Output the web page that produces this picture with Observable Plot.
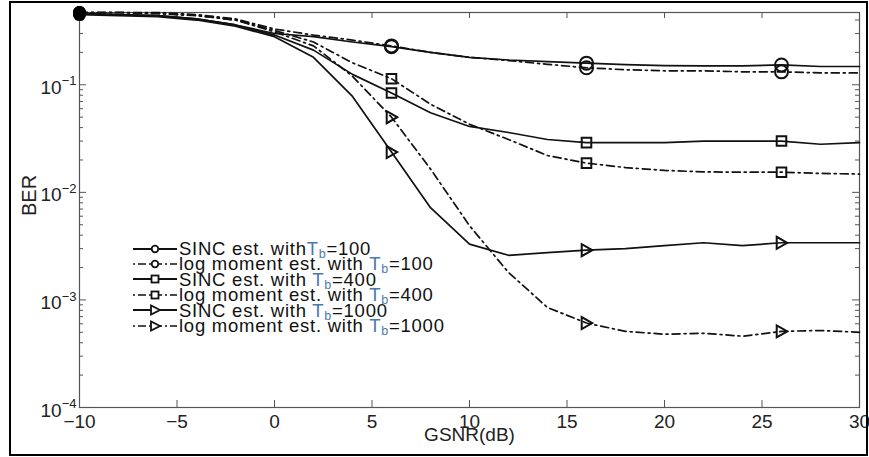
<!DOCTYPE html>
<html><head><meta charset="utf-8">
<script src="https://cdn.jsdelivr.net/npm/d3@7"></script>
<script src="https://cdn.jsdelivr.net/npm/@observablehq/plot@0.6"></script>
<style>
html,body{margin:0;padding:0;background:#fff;}
#wrap{position:relative;width:869px;height:457px;font-family:"Liberation Sans",Arial,sans-serif;}
#wrap svg.plot{display:block;}
#border{position:absolute;left:9px;top:1px;width:855px;height:451px;border:2px solid #000;pointer-events:none;}
#legend{position:absolute;left:132px;top:241px;font-size:18.5px;letter-spacing:0.75px;line-height:15.4px;color:#111;}
.row{display:flex;align-items:center;height:15.4px;white-space:nowrap;}
.row svg{flex:none;}
.txt{display:inline-block;height:15.4px;line-height:15.4px;overflow:visible;}
.tb{color:#4a78b0;}
.tb sub{font-size:12.5px;vertical-align:-3px;line-height:0;}
</style></head><body>
<div id="wrap"><div id="legend"></div><div id="border"></div></div>
<script>
// ---- data ----
const gsnr = [-10,-8,-6,-4,-2,0,2,4,6,8,10,12,14,16,18,20,22,24,26,28,30];
const sinc100 = [0.46,0.45,0.44,0.41,0.36,0.30,0.28,0.25,0.226,0.20,0.18,0.17,0.164,0.159,0.154,0.151,0.150,0.150,0.153,0.148,0.148];
const logm100 = [0.47,0.47,0.47,0.45,0.41,0.33,0.29,0.26,0.23,0.20,0.18,0.168,0.155,0.144,0.138,0.135,0.135,0.132,0.132,0.129,0.129];
const sinc400 = [0.46,0.45,0.44,0.41,0.36,0.29,0.21,0.125,0.084,0.055,0.041,0.036,0.031,0.029,0.029,0.029,0.030,0.030,0.030,0.028,0.029];
const logm400 = [0.47,0.47,0.46,0.44,0.40,0.32,0.25,0.16,0.114,0.066,0.043,0.031,0.022,0.0187,0.017,0.016,0.0155,0.0154,0.0154,0.015,0.0148];
const sinc1000 = [0.45,0.44,0.43,0.40,0.35,0.28,0.18,0.078,0.0237,0.0072,0.0033,0.0026,0.00275,0.0029,0.0030,0.0032,0.0034,0.0032,0.0034,0.0034,0.0034];
const logm1000 = [0.47,0.47,0.46,0.44,0.40,0.31,0.23,0.12,0.050,0.0165,0.0049,0.0018,0.00085,0.00061,0.00051,0.00048,0.00049,0.00046,0.00051,0.00052,0.00050];
const seriesValues = [sinc100, logm100, sinc400, logm400, sinc1000, logm1000];
const seriesPrefix = ["SINC est. with", "log moment est. with ", "SINC est. with ", "log moment est. with ", "SINC est. with ", "log moment est. with "];
const seriesTb = ["100", "100", "400", "400", "1000", "1000"];
const markerX = [6, 16, 26];
const xTicks = [-10, -5, 0, 5, 10, 15, 20, 25, 30];
const yMajor = [1e-4, 1e-3, 1e-2, 1e-1];
const xLabel = "GSNR(dB)";
const yLabel = "BER";

// ---- styles ----
const isDashed = [false, true, false, true, false, true];
const symKind = ["circle", "circle", "square", "square", "tri", "tri"];
const DASH = "8,4,2,4";
const FS = 19;
const triRight = {draw(ctx, size) {
  const r = Math.sqrt(size / Math.PI);
  ctx.moveTo(1.2 * r, 0); ctx.lineTo(-r, -1.25 * r); ctx.lineTo(-r, 1.25 * r); ctx.closePath();
}};
const symOf = k => k === "circle" ? "circle" : k === "square" ? "square" : triRight;
const rOf = k => k === "circle" ? 6.5 : k === "square" ? 5.4 : 4.8;

const rows = [];
seriesValues.forEach((vals, i) => vals.forEach((v, j) => rows.push({s: i, x: gsnr[j], y: v})));
const markRows = rows.filter(d => markerX.includes(d.x));
const firstRows = rows.filter(d => d.x === gsnr[0]);

const yMinor = [];
yMajor.forEach(m => { for (let k = 2; k <= 9; k++) { const v = m * k; if (v < 0.47) yMinor.push(v); } });

const H = 457, W = 869, mT = 12, mB = 50, mL = 79, mR = 10;
const ih = H - mT - mB, iw = W - mL - mR;
const axisC = "#555";

const marks = [
  Plot.frame({stroke: axisC, strokeWidth: 1.2}),
  Plot.ruleX(xTicks, {x: d => d, insetTop: ih - 7, stroke: axisC}),
  Plot.ruleX(xTicks, {x: d => d, insetBottom: ih - 6, stroke: axisC}),
  Plot.ruleY(yMajor, {y: d => d, insetRight: iw - 7, stroke: axisC}),
  Plot.ruleY(yMajor, {y: d => d, insetLeft: iw - 7, stroke: axisC}),
  Plot.ruleY(yMinor, {y: d => d, insetRight: iw - 4, stroke: axisC}),
  Plot.ruleY(yMinor, {y: d => d, insetLeft: iw - 4, stroke: axisC}),
  Plot.axisX({ticks: xTicks, tickSize: 0, tickPadding: 7, label: null, fontSize: FS,
    tickFormat: d => d < 0 ? "\u2212" + (-d) : String(d), fill: "#222"}),
  Plot.axisY({ticks: yMajor, tickSize: 0, tickPadding: 3, dy: 3, label: null, fontSize: FS,
    tickFormat: d => { const e = Math.round(Math.log10(d)); return (e < 0 ? "\u2212" : "") + Math.abs(e); }, fill: "#222"}),
  Plot.text([xLabel], {text: d => d, frameAnchor: "bottom", lineAnchor: "top", dy: 20, fontSize: FS, fill: "#222"}),
  Plot.text([yLabel], {text: d => d, frameAnchor: "left", rotate: -90, dx: -50, dy: 6, fontSize: FS + 1, fill: "#222"})
];
seriesValues.forEach((_, i) => {
  marks.push(Plot.line(rows.filter(d => d.s === i), {x: "x", y: "y", stroke: "#111", strokeWidth: 1.7,
    strokeDasharray: isDashed[i] ? DASH : null}));
});
seriesValues.forEach((_, i) => {
  marks.push(Plot.dot(markRows.filter(d => d.s === i), {x: "x", y: "y", symbol: symOf(symKind[i]), r: rOf(symKind[i]),
    stroke: "#111", strokeWidth: 2, fill: "none"}));
});
marks.push(Plot.dot(firstRows, {x: "x", y: "y", r: 6.5, fill: "#000"}));

const svg = Plot.plot({
  width: W, height: H, marginTop: mT, marginBottom: mB, marginLeft: mL, marginRight: mR,
  style: {fontFamily: "'Liberation Sans', Arial, sans-serif", fontSize: FS + "px", background: "#fff", overflow: "visible"},
  x: {domain: [-10, 30]},
  y: {type: "log", domain: [1e-4, 0.47]},
  marks
});
svg.classList.add("plot");
d3.select(svg).selectAll('g[aria-label="y-axis tick label"] text').each(function() {
  const e = this.textContent;
  this.textContent = "10";
  d3.select(this).append("tspan").attr("dy", "-0.65em").attr("font-size", "13px").text(e);
});
const wrap = document.getElementById("wrap");
wrap.insertBefore(svg, wrap.firstChild);

// ---- legend ----
const legend = document.getElementById("legend");
seriesValues.forEach((_, i) => {
  const row = document.createElement("div");
  row.className = "row";
  const k = symKind[i];
  let mk;
  if (k === "circle") mk = `<circle cx="23" cy="8" r="3.3" fill="#fff" stroke="#111" stroke-width="1.8"/>`;
  else if (k === "square") mk = `<rect x="19.5" y="4.5" width="7" height="7" fill="#fff" stroke="#111" stroke-width="1.8"/>`;
  else mk = `<path d="M28,8 L19,3.5 L19,12.5 Z" fill="#fff" stroke="#111" stroke-width="1.8"/>`;
  const line = isDashed[i]
    ? `<line x1="1" x2="45" y1="8" y2="8" stroke="#111" stroke-width="1.6" stroke-dasharray="2,3,8,3"/>`
    : `<line x1="1" x2="45" y1="8" y2="8" stroke="#111" stroke-width="1.8"/>`;
  row.innerHTML = `<svg width="47" height="16" viewBox="0 0 47 16">${line}${mk}</svg>` +
    `<span class="txt">${seriesPrefix[i]}<span class="tb">T<sub>b</sub></span>=${seriesTb[i]}</span>`;
  legend.appendChild(row);
});
</script>
</body></html>
